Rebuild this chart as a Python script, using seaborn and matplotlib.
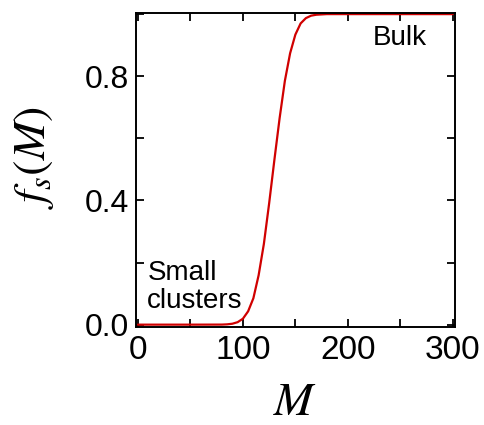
import matplotlib
matplotlib.use("Agg")
import matplotlib.pyplot as plt
from matplotlib.ticker import MultipleLocator
import seaborn as sns
import pandas as pd

# Fraction of solid-like particles f_s versus cluster size M
cluster_size = [0, 50, 80, 85, 90, 95, 100, 105, 110, 115, 120, 125, 130,
                135, 140, 145, 150, 155, 160, 165, 170, 175, 180, 200, 250, 300]
solid_fraction = [0.0, 0.0, 0.0002, 0.001, 0.003, 0.008, 0.019, 0.043, 0.085,
                  0.159, 0.26, 0.39, 0.53, 0.665, 0.785, 0.874, 0.934, 0.97,
                  0.987, 0.995, 0.998, 0.999, 1.0, 1.0, 1.0, 1.0]

x_major = [0, 100, 200, 300]
y_major = [0.0, 0.4, 0.8]

sns.set_theme(style="ticks")
plt.rcParams["font.family"] = ["Liberation Sans", "DejaVu Sans"]
plt.rcParams["mathtext.fontset"] = "stix"
plt.rcParams["text.color"] = "black"
plt.rcParams["axes.labelcolor"] = "black"
plt.rcParams["xtick.color"] = "black"
plt.rcParams["ytick.color"] = "black"

df = pd.DataFrame({"M": cluster_size, "fs": solid_fraction})

fig = plt.figure(figsize=(4.85, 4.25), dpi=100)
ax = fig.add_axes([0.280, 0.231, 0.658, 0.738])

sns.lineplot(data=df, x="M", y="fs", color="#d00000", linewidth=1.6, ax=ax)

ax.set_xlim(-2, 302)
ax.set_ylim(-0.007, 1.003)
ax.set_xticks(x_major)
ax.set_yticks(y_major)
ax.set_yticklabels([f"{v:.1f}" for v in y_major])
ax.xaxis.set_minor_locator(MultipleLocator(50))
ax.yaxis.set_minor_locator(MultipleLocator(0.2))

ax.tick_params(which="both", direction="in", top=True, right=True,
               length=6, width=1.3, color="black")
ax.tick_params(axis="x", which="major", labelsize=24, pad=6)
ax.tick_params(axis="y", which="major", labelsize=23, pad=5)
for s in ax.spines.values():
    s.set_linewidth(1.4)
    s.set_color("black")

ax.set_xlabel("$M$", fontsize=34, labelpad=11)
ax.set_ylabel("$f_s(M)$", fontsize=33)
ax.yaxis.set_label_coords(-0.25, 0.54)

ax.text(9, 0.035, "Small\nclusters", fontsize=20, ha="left", va="bottom",
        linespacing=1.1)
ax.text(224, 0.965, "Bulk", fontsize=20, ha="left", va="top")

fig.savefig("out.png", dpi=100)
